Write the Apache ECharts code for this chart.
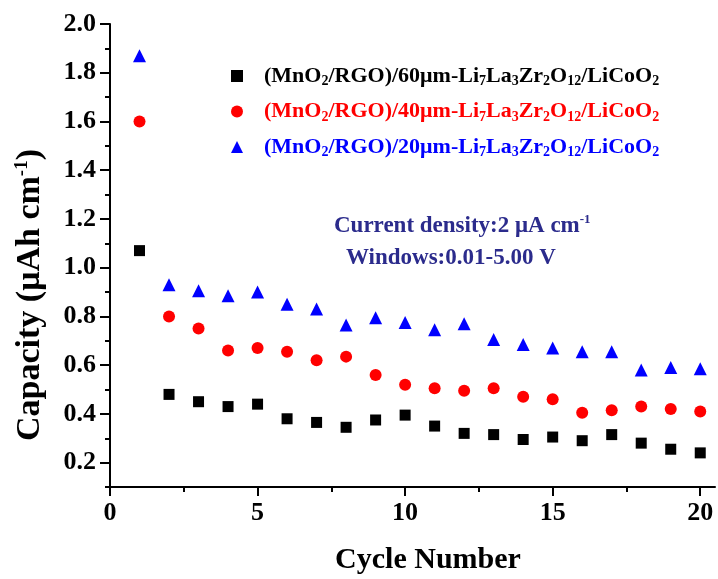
<!DOCTYPE html>
<html>
<head>
<meta charset="utf-8">
<script src="https://cdn.jsdelivr.net/npm/echarts@6/dist/echarts.min.js"></script>
<style>
html, body { margin: 0; padding: 0; background: #fff; }
#chart { width: 718px; height: 579px; }
</style>
</head>
<body>
<div id="chart"></div>
<script>
var cycles = [1,2,3,4,5,6,7,8,9,10,11,12,13,14,15,16,17,18,19,20];
var cap60 = [1.07,0.48,0.45,0.43,0.44,0.38,0.365,0.345,0.375,0.395,0.35,0.32,0.315,0.295,0.305,0.29,0.315,0.28,0.255,0.24];
var cap40 = [1.60,0.80,0.75,0.66,0.67,0.655,0.62,0.635,0.56,0.52,0.505,0.495,0.505,0.47,0.46,0.405,0.415,0.43,0.42,0.41];
var cap20 = [1.87,0.93,0.905,0.885,0.90,0.85,0.83,0.765,0.795,0.775,0.745,0.77,0.705,0.685,0.67,0.655,0.655,0.58,0.59,0.585];
var names = ['60', '40', '20'];
var colors = ['#000000', '#ff0000', '#0000ff'];
var xTicks = [0, 5, 10, 15, 20];
var xMinor = [2.5, 7.5, 12.5, 17.5];
var yTicks = [0.2, 0.4, 0.6, 0.8, 1.0, 1.2, 1.4, 1.6, 1.8, 2.0];
var yMinor = [0.1, 0.3, 0.5, 0.7, 0.9, 1.1, 1.3, 1.5, 1.7, 1.9];

var serif = '"Liberation Serif", "DejaVu Serif", serif';
var navy = '#2b2b8c';

function pts(ys) {
  return cycles.map(function (c, i) { return [c, ys[i]]; });
}

function seriesName(t) {
  return '(MnO2/RGO)/' + t + 'μm-Li7La3Zr2O12/LiCoO2';
}

function legendRich() {
  var r = {};
  ['k', 'r', 'b'].forEach(function (k, i) {
    r['n' + k] = {color: colors[i], fontFamily: serif, fontWeight: 'bold', fontSize: 22};
    r['s' + k] = {color: colors[i], fontFamily: serif, fontWeight: 'bold', fontSize: 14, padding: [11, 0, 0, 0]};
    r['p' + k] = {color: colors[i], fontFamily: serif, fontWeight: 'bold', fontSize: 22, padding: [0, 0, 0, 16]};
  });
  return r;
}

function legendFmt(name) {
  var t = name.match(/\/(\d+)μm/)[1];
  var k = ['k', 'r', 'b'][names.indexOf(t)];
  var n = function (s) { return '{n' + k + '|' + s + '}'; };
  var s = function (s) { return '{s' + k + '|' + s + '}'; };
  return '{p' + k + '|(MnO}' + s('2') + n('/RGO)/' + t + 'μm-Li') + s('7') + n('La') + s('3') +
    n('Zr') + s('2') + n('O') + s('12') + n('/LiCoO') + s('2');
}

var myChart = echarts.init(document.getElementById('chart'));
option = {
  animation: false,
  backgroundColor: '#fff',
  grid: {left: 110, right: 3, top: 24, bottom: 92},
  legend: {
    orient: 'vertical',
    left: 226,
    top: 60,
    itemGap: 12,
    itemWidth: 12,
    itemHeight: 12,
    itemTextGap: 10,
    data: names.map(function (t, i) {
      return {name: seriesName(t), icon: ['rect', 'circle', 'triangle'][i]};
    }),
    formatter: legendFmt,
    textStyle: {fontFamily: serif, fontWeight: 'bold', fontSize: 22, rich: legendRich()}
  },
  graphic: [
    {
      type: 'text', x: 334, y: 226,
      style: {
        text: 'Current density:2 μA cm{sup|-1}',
        fill: navy, font: 'bold 23px ' + serif, verticalAlign: 'middle',
        rich: {sup: {fill: navy, fontFamily: serif, fontWeight: 'bold', fontSize: 13, padding: [0, 0, 12, 0]}}
      }
    },
    {
      type: 'text', x: 346, y: 258,
      style: {text: 'Windows:0.01-5.00 V', fill: navy, font: 'bold 23px ' + serif, verticalAlign: 'middle'}
    },
    {
      type: 'text', x: 30, y: 295, rotation: Math.PI / 2,
      style: {
        text: 'Capacity (μAh cm{sup|-1})',
        fill: '#000', font: 'bold 34px ' + serif, align: 'center', verticalAlign: 'middle',
        rich: {sup: {fill: '#000', fontFamily: serif, fontWeight: 'bold', fontSize: 19, padding: [0, 0, 16, 0]}}
      }
    },
    {
      type: 'text', x: 428, y: 560,
      style: {text: 'Cycle Number', fill: '#000', font: 'bold 30px ' + serif, align: 'center', verticalAlign: 'middle'}
    }
  ],
  xAxis: [
    {
      type: 'value', min: 0, max: 20.5, position: 'bottom',
      axisLine: {lineStyle: {color: '#000', width: 2}},
      axisTick: {inside: false, length: 9, lineStyle: {width: 2}, customValues: xTicks},
      axisLabel: {customValues: xTicks, margin: 13, fontFamily: serif, fontWeight: 'bold', fontSize: 26, color: '#000'},
      splitLine: {show: false}
    },
    {
      type: 'value', min: 0, max: 20.5, position: 'bottom', offset: 0,
      axisLine: {show: false},
      axisTick: {inside: false, length: 5, lineStyle: {width: 2, color: '#000'}, customValues: xMinor},
      axisLabel: {show: false},
      splitLine: {show: false}
    }
  ],
  yAxis: [
    {
      type: 'value', min: 0.1, max: 2.0, position: 'left',
      axisLine: {show: true, lineStyle: {color: '#000', width: 2}},
      axisTick: {show: true, inside: false, length: 10, lineStyle: {width: 2}, customValues: yTicks},
      axisLabel: {
        customValues: yTicks, margin: 14, fontFamily: serif, fontWeight: 'bold', fontSize: 26, color: '#000',
        formatter: function (v) { return v.toFixed(1); }
      },
      splitLine: {show: false}
    },
    {
      type: 'value', min: 0.1, max: 2.0, position: 'left', offset: 0,
      axisLine: {show: false},
      axisTick: {show: true, inside: false, length: 5, lineStyle: {width: 2, color: '#000'}, customValues: yMinor},
      axisLabel: {show: false},
      splitLine: {show: false}
    }
  ],
  series: [
    {name: seriesName('60'), type: 'scatter', symbol: 'rect', symbolSize: 11, itemStyle: {color: colors[0], opacity: 1}, data: pts(cap60)},
    {name: seriesName('40'), type: 'scatter', symbol: 'circle', symbolSize: 12, itemStyle: {color: colors[1], opacity: 1}, data: pts(cap40)},
    {name: seriesName('20'), type: 'scatter', symbol: 'triangle', symbolSize: 13, itemStyle: {color: colors[2], opacity: 1}, data: pts(cap20)}
  ]
};
myChart.setOption(option);

window.addEventListener('resize', function () {
  myChart.resize();
});
</script>
</body>
</html>
